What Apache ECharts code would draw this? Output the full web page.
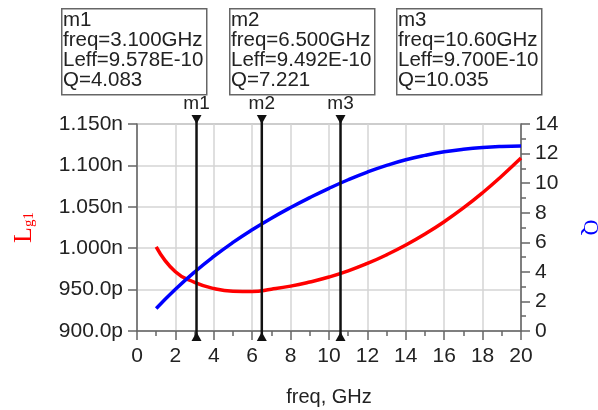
<!DOCTYPE html>
<html>
<head>
<meta charset="utf-8">
<script src="https://cdn.jsdelivr.net/npm/echarts@6/dist/echarts.min.js"></script>
<style>
  html, body { margin: 0; padding: 0; background: #fff; }
  #chart { width: 598px; height: 410px; }
</style>
</head>
<body>
<div id="chart"></div>
<script>
// frequency points, GHz
var freq = [1, 2, 3, 4, 5, 6, 7, 8, 9, 10, 11, 12, 13, 14, 15, 16, 17, 18, 19, 20];
// Lg1 in pH
var leff = [1001.7, 971.5, 958.8, 951.3, 948.0, 947.6, 950.5, 954.2, 959.2, 965.2, 972.6, 981.6, 992.0, 1003.8, 1017.1, 1032.0, 1048.6, 1067.0, 1087.2, 1108.8];
// quality factor
var qVals = [1.52, 2.82, 3.99, 5.04, 5.99, 6.85, 7.63, 8.35, 9.02, 9.65, 10.23, 10.75, 11.20, 11.58, 11.88, 12.12, 12.29, 12.41, 12.48, 12.51];

// markers
var markerNames = ['m1', 'm2', 'm3'];
var markerFreq = [3.1, 6.5, 10.6];
var markerFreqText = ['3.100GHz', '6.500GHz', '10.60GHz'];
var markerLeffText = ['9.578E-10', '9.492E-10', '9.700E-10'];
var markerQText = ['4.083', '7.221', '10.035'];

var boxX = [61, 229, 396];

var chart = echarts.init(document.getElementById('chart'));

var lbl = { color: '#222', fontFamily: 'Arial, "Liberation Sans"', fontSize: 21 };

function fmtL(v) {
    if (v >= 1000) return (v / 1000).toFixed(3) + 'n';
    return v.toFixed(1) + 'p';
}

var graphics = [];
markerNames.forEach(function (m, i) {
    graphics.push({
        type: 'rect',
        left: boxX[i], top: 8,
        shape: { width: 145, height: 86 },
        style: { fill: '#fff', stroke: '#666', lineWidth: 1.5 }
    });
    graphics.push({
        type: 'text',
        left: boxX[i] + 2, top: 10,
        style: {
            text: m + '\nfreq=' + markerFreqText[i] + '\nLeff=' + markerLeffText[i] + '\nQ=' + markerQText[i],
            font: '20.5px Arial, "Liberation Sans"',
            lineHeight: 20,
            fill: '#222'
        }
    });
});

chart.setOption({
    animation: false,
    grid: {
        left: 137, right: 77, top: 124, bottom: 79,
        outerBoundsMode: 'none', containLabel: false,
        show: true, borderColor: '#777', borderWidth: 1
    },
    graphic: graphics,
    xAxis: {
        type: 'value', min: 0, max: 20, interval: 2,
        name: 'freq, GHz', nameLocation: 'middle', nameGap: 56,
        nameTextStyle: { color: '#222', fontFamily: 'Arial, "Liberation Sans"', fontSize: 20 },
        axisLine: { lineStyle: { color: '#666', width: 1.5 } },
        axisTick: { length: 9, lineStyle: { color: '#666', width: 1.5 } },
        minorTick: { show: true, splitNumber: 2, length: 5, lineStyle: { color: '#666', width: 1.5 } },
        axisLabel: Object.assign({ margin: 15 }, lbl),
        splitLine: { show: true, lineStyle: { color: '#d4d4d4', width: 1.5 } }
    },
    yAxis: [{
        type: 'value', min: 900, max: 1150, interval: 50,
        name: 'L{s|g1}', nameLocation: 'middle', nameGap: 100, nameRotate: 90,
        nameTextStyle: {
            color: '#ff0000', fontFamily: '"Liberation Serif", "DejaVu Serif", serif', fontSize: 26,
            rich: { s: { color: '#ff0000', fontFamily: '"Liberation Serif", serif', fontSize: 15, padding: [10, 0, 0, 0] } }
        },
        axisLine: { show: true, lineStyle: { color: '#666', width: 1.5 } },
        axisTick: { show: true, length: 9, lineStyle: { color: '#666', width: 1.5 } },
        axisLabel: Object.assign({ margin: 14, formatter: fmtL }, lbl),
        splitLine: { show: true, lineStyle: { color: '#d4d4d4', width: 1.5 } }
    }, {
        type: 'value', min: 0, max: 14, interval: 2, position: 'right',
        name: 'Q', nameLocation: 'middle', nameGap: 58, nameRotate: -90,
        nameTextStyle: { color: '#0000ff', fontFamily: '"Liberation Serif", serif', fontSize: 22 },
        axisLine: { show: true, lineStyle: { color: '#666', width: 1.5 } },
        axisTick: { show: true, length: 9, lineStyle: { color: '#666', width: 1.5 } },
        minorTick: { show: true, splitNumber: 2, length: 5, lineStyle: { color: '#666', width: 1.5 } },
        axisLabel: Object.assign({ margin: 14 }, lbl),
        splitLine: { show: false }
    }],
    series: [{
        name: 'Lg1', type: 'line', yAxisIndex: 0, smooth: true, showSymbol: false,
        lineStyle: { color: '#ff0000', width: 3.5 },
        data: freq.map(function (f, i) { return [f, leff[i]]; })
    }, {
        name: 'Q', type: 'line', yAxisIndex: 1, smooth: true, showSymbol: false,
        lineStyle: { color: '#0000ff', width: 3.5 },
        data: freq.map(function (f, i) { return [f, qVals[i]]; })
    }, {
        name: 'markers', type: 'custom', yAxisIndex: 0, z: 5,
        data: markerFreq.map(function (f) { return [f]; }),
        encode: { x: 0 },
        renderItem: function (params, api) {
            var f = api.value(0);
            var pb = api.coord([f, 900]);
            var pt = api.coord([f, 1150]);
            var x = pb[0], yb = pb[1], yt = pt[1];
            return {
                type: 'group',
                children: [
                    { type: 'line', shape: { x1: x, y1: yt - 8, x2: x, y2: yb + 9 }, style: { stroke: '#111', lineWidth: 2.5 } },
                    { type: 'polygon', shape: { points: [[x - 5, yt - 9], [x + 5, yt - 9], [x, yt]] }, style: { fill: '#111' } },
                    { type: 'polygon', shape: { points: [[x - 5, yb + 10], [x + 5, yb + 10], [x, yb + 1]] }, style: { fill: '#111' } },
                    { type: 'text', x: x, y: yt - 11, style: { text: markerNames[params.dataIndex], align: 'center', verticalAlign: 'bottom', font: '19px Arial, "Liberation Sans"', fill: '#222' } }
                ]
            };
        }
    }]
});
</script>
</body>
</html>
